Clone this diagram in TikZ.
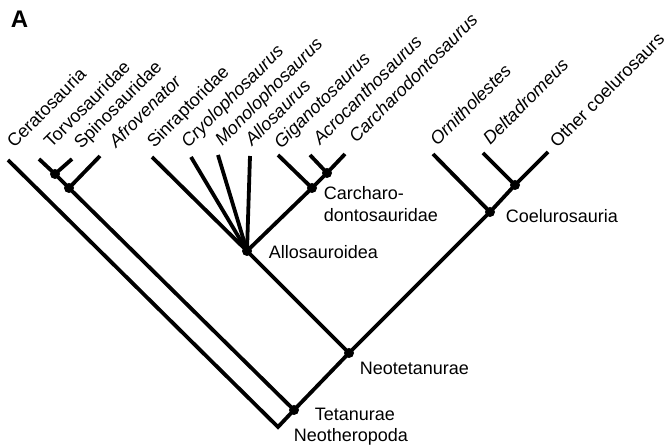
\documentclass[tikz,border=0pt]{standalone}
\usepackage{fontspec}
\setmainfont{Liberation Sans}
\begin{document}
\begin{tikzpicture}[x=1pt, y=-1pt, line width=3.8pt,
  every node/.append style={inner sep=0pt, font=\fontsize{18}{22}\selectfont},
  taxon/.style={rotate=45, anchor=base west},
  clade/.style={anchor=base west}]
  \useasboundingbox (0,0) rectangle (665,446);
  \node[anchor=base west, font=\fontsize{24}{26}\selectfont\bfseries] (panel) at (9,28) {A};
  % branch points
  \coordinate (root) at (278,427);
  \coordinate (tet)  at (294,410);
  \coordinate (spi)  at (69,188);
  \coordinate (tsp)  at (55,174);
  \coordinate (neo)  at (349,353);
  \coordinate (allo) at (247,251);
  \coordinate (car)  at (312,188);
  \coordinate (cin)  at (327,173);
  \coordinate (coe)  at (490,212);
  \coordinate (doc)  at (515,185);
  % tips
  \coordinate (t-cer) at (8,160);
  \coordinate (t-tor) at (39,159);
  \coordinate (t-spi) at (72,159);
  \coordinate (t-afr) at (100,156);
  \coordinate (t-sin) at (152,157);
  \coordinate (t-cry) at (191,157);
  \coordinate (t-mon) at (218,155);
  \coordinate (t-all) at (250,156);
  \coordinate (t-gig) at (278,155);
  \coordinate (t-acr) at (310,155);
  \coordinate (t-cad) at (345,154);
  \coordinate (t-orn) at (433,154);
  \coordinate (t-del) at (483,153);
  \coordinate (t-oth) at (548,152);
  % branches
  \draw (t-cer) -- (root) -- (tet) -- (spi) -- (tsp) -- (t-tor);
  \draw (tsp) -- (t-spi);
  \draw (spi) -- (t-afr);
  \draw (tet) -- (neo) -- (allo) -- (t-sin);
  \draw (allo) -- (t-cry);  \draw (allo) -- (t-mon);  \draw (allo) -- (t-all);
  \draw (allo) -- (car) -- (cin) -- (t-cad);
  \draw (car) -- (t-gig);  \draw (cin) -- (t-acr);
  \draw (neo) -- (coe) -- (doc) -- (t-oth);
  \draw (coe) -- (t-orn);  \draw (doc) -- (t-del);
  \foreach \n in {tsp,spi,tet,neo,allo,car,cin,coe,doc}
    \fill (\n) circle (5pt);
  % taxa
  \node[taxon] (l-cer) at (13,150) {Ceratosauria};
  \node[taxon] (l-tor) at (50,150) {Torvosauridae};
  \node[taxon] (l-spi) at (80,151) {Spinosauridae};
  \node[taxon] (l-afr) at (115,150) {\itshape Afrovenator};
  \node[taxon] (l-sin) at (153,150) {Sinraptoridae};
  \node[taxon] (l-cry) at (187,150) {\itshape Cryolophosaurus};
  \node[taxon] (l-mon) at (221,148) {\itshape Monolophosaurus};
  \node[taxon] (l-all) at (251,148) {\itshape Allosaurus};
  \node[taxon] (l-gig) at (280,151) {\itshape Giganotosaurus};
  \node[taxon] (l-acr) at (319,147) {\itshape Acrocanthosaurus};
  \node[taxon] (l-cad) at (355,145) {\itshape Carcharodontosaurus};
  \node[taxon] (l-orn) at (436,148) {\itshape Ornitholestes};
  \node[taxon] (l-del) at (489,147) {\itshape Deltadromeus};
  \node[taxon] (l-oth) at (556,150) {Other coelurosaurs};
  % clades
  \node[anchor=north west, align=left] (c-car) at (322,185) {Carcharo-\\dontosauridae};
  \node[clade] (c-allo) at (267,259) {Allosauroidea};
  \node[clade] (c-coe) at (504,223) {Coelurosauria};
  \node[clade] (c-neo) at (358,375) {Neotetanurae};
  \node[clade] (c-tet) at (313,421) {Tetanurae};
  \node[clade] (c-root) at (292,442) {Neotheropoda};
\end{tikzpicture}
\end{document}
